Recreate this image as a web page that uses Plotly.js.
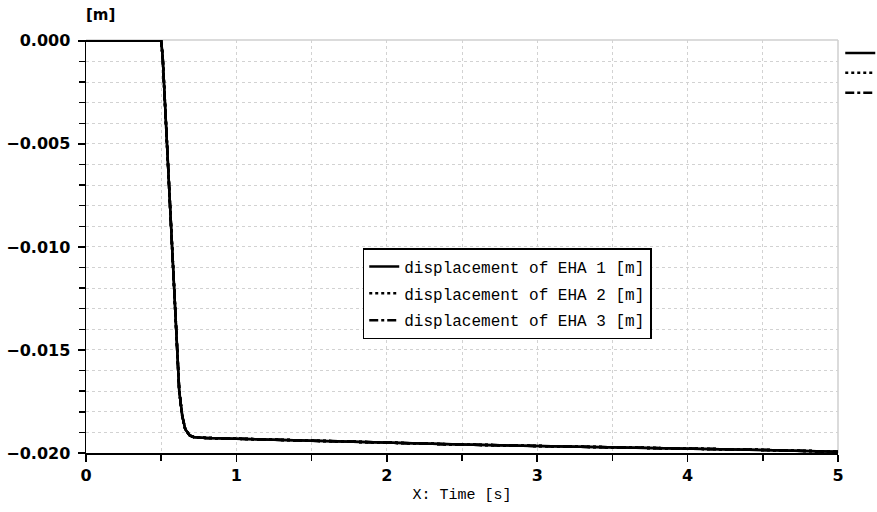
<!DOCTYPE html>
<html>
<head>
<meta charset="utf-8">
<script src="https://cdn.plot.ly/plotly-3.0.1.min.js"></script>
<style>html,body{margin:0;padding:0;background:#fff;overflow:hidden;}#chart{width:877px;height:512px;}</style>
</head>
<body>
<div id="chart"></div>
<script>
// Time [s]
var time = [0, 0.5, 0.51, 0.54, 0.58, 0.62, 0.64, 0.66, 0.69, 0.72, 0.8, 0.9, 1, 1.5, 2, 2.5, 3, 3.5, 4, 4.5, 5];
// displacement [m]
var eha1 = [0, 0, -0.0008, -0.0052, -0.0111, -0.0170, -0.0182, -0.01885, -0.01915, -0.01924, -0.01927, -0.01929, -0.01932, -0.01942, -0.01952, -0.01959, -0.01966, -0.01972, -0.01978, -0.01985, -0.01994];
var eha2 = eha1.slice();
var eha3 = eha1.slice();
var seriesNames = ["displacement of EHA 1 [m]", "displacement of EHA 2 [m]", "displacement of EHA 3 [m]"];
var yTickVals = [0, -0.005, -0.010, -0.015, -0.020];
var yTickText = ["0.000", "\u22120.005", "\u22120.010", "\u22120.015", "\u22120.020"];
var xTickVals = [0, 1, 2, 3, 4, 5];

var dashes = ["solid", "dot", "dashdot"];
var ys = [eha1, eha2, eha3];
var traces = [];
for (var i = 0; i < 3; i++) {
  traces.push({x: time, y: ys[i], mode: "lines", name: seriesNames[i], legend: "legend", legendgroup: "g" + i,
    line: {color: "#000", width: 2.5, dash: dashes[i]}});
}
// second (cut-off) legend at the right edge: only the line samples are visible
for (var j = 0; j < 3; j++) {
  traces.push({x: time, y: ys[j], mode: "lines", name: " ", legend: "legend2",
    line: {color: "#000", width: 2.5, dash: dashes[j]}});
}

var gridCol = "#d2d2d2";
var layout = {
  width: 877, height: 512,
  margin: {l: 86, r: 39, t: 40, b: 59, autoexpand: false},
  paper_bgcolor: "#fff", plot_bgcolor: "#fff",
  showlegend: true,
  xaxis: {
    range: [0, 5], tickvals: xTickVals, ticks: "outside", ticklen: 7, tickwidth: 1.5, tickcolor: "#000",
    showline: true, linecolor: "#000", linewidth: 1.5, zeroline: false,
    showgrid: true, gridcolor: gridCol, griddash: "dot", gridwidth: 1,
    tickfont: {family: "DejaVu Sans", size: 16, color: "#000", weight: "bold"},
    minor: {dtick: 0.5, ticks: "outside", ticklen: 6, tickcolor: "#000", showgrid: true, gridcolor: gridCol, griddash: "dot"},
    title: {text: "X: Time [s]", font: {family: "Liberation Mono", size: 15, color: "#000"}, standoff: 5}
  },
  yaxis: {
    range: [-0.02, 0.00004], tickvals: yTickVals, ticktext: yTickText, ticks: "outside", ticklen: 7, tickwidth: 1.5, tickcolor: "#000",
    showline: true, linecolor: "#000", linewidth: 1.5, zeroline: false,
    showgrid: true, gridcolor: gridCol, griddash: "dot", gridwidth: 1,
    ticklabelstandoff: 4,
    tickfont: {family: "DejaVu Sans", size: 16, color: "#000", weight: "bold"},
    minor: {dtick: 0.001, ticks: "outside", ticklen: 6, tickcolor: "#000", showgrid: true, gridcolor: gridCol, griddash: "dot"}
  },
  legend: {
    x: 0.368, y: 0.496, xanchor: "left", yanchor: "top",
    bordercolor: "#000", borderwidth: 1.5, bgcolor: "#fff",
    font: {family: "Liberation Mono", size: 16, color: "#000"},
    tracegroupgap: 3
  },
  legend2: {
    x: 1.003, y: 1.005, xanchor: "left", yanchor: "top",
    borderwidth: 0, bgcolor: "rgba(0,0,0,0)",
    font: {family: "Liberation Mono", size: 13, color: "#000"}
  },
  shapes: [
    {type: "line", xref: "paper", yref: "paper", x0: 0, x1: 1, y0: 1, y1: 1, line: {color: "#cfcfcf", width: 1.5}, layer: "below"},
    {type: "line", xref: "paper", yref: "paper", x0: 1, x1: 1, y0: 0, y1: 1, line: {color: "#cfcfcf", width: 1.5}, layer: "below"}
  ],
  annotations: [
    {text: "[m]", xref: "paper", yref: "paper", x: 0.019, y: 1, xanchor: "center", yanchor: "middle", yshift: 25, showarrow: false,
     font: {family: "DejaVu Sans", size: 15, color: "#000", weight: "bold"}}
  ]
};
Plotly.newPlot("chart", traces, layout, {displayModeBar: false, staticPlot: true});
</script>
</body>
</html>
